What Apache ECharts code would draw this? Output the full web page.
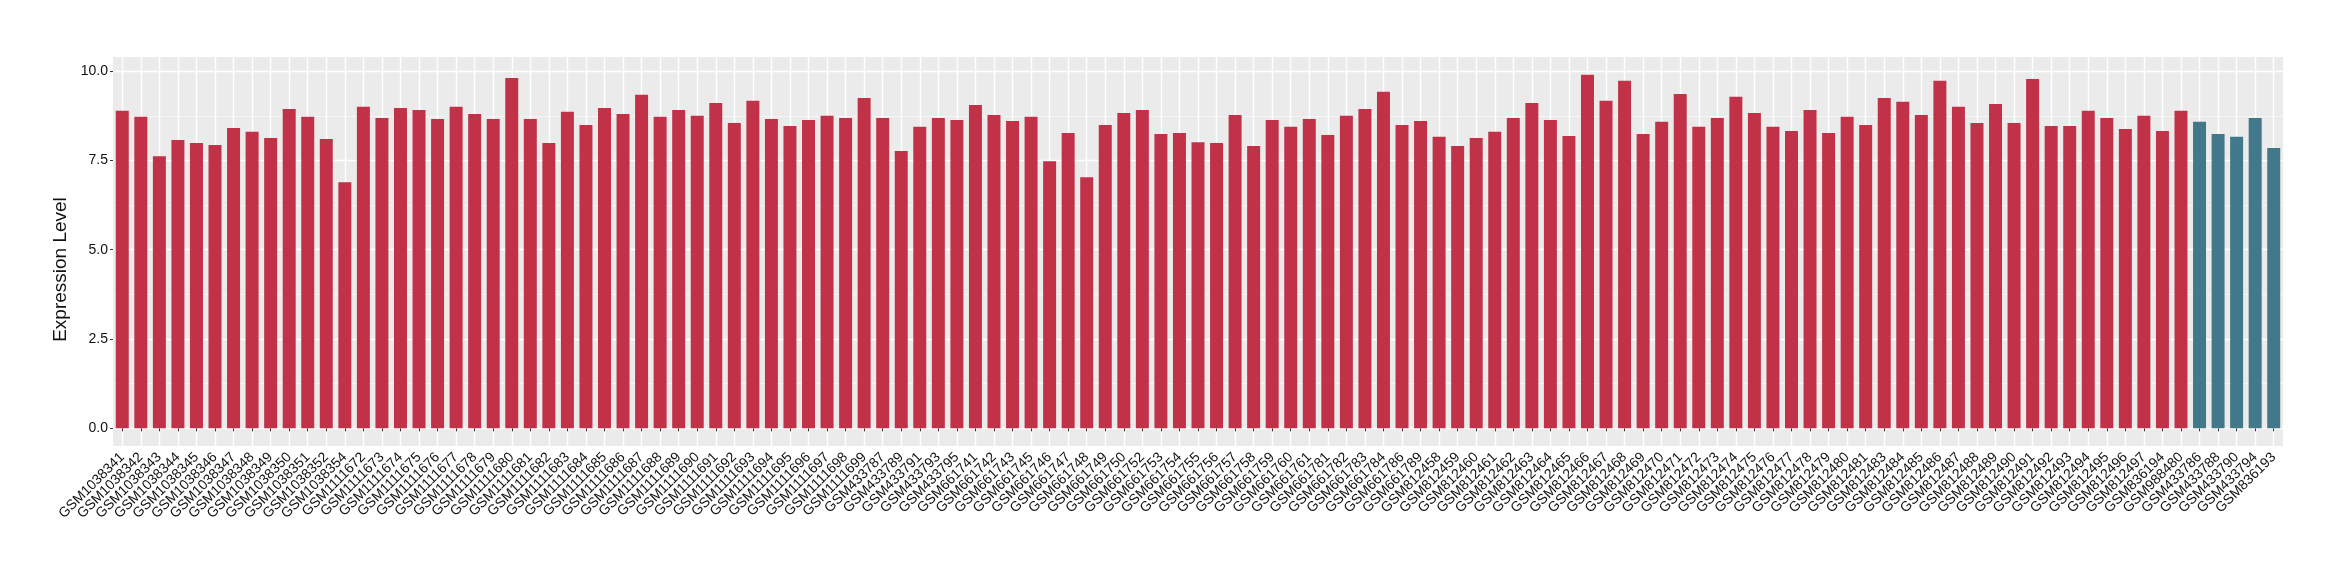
<!DOCTYPE html>
<html><head><meta charset="utf-8">
<script src="https://cdn.jsdelivr.net/npm/echarts@6/dist/echarts.min.js"></script>
<style>html,body{margin:0;padding:0;background:#fff}#c{width:2340px;height:580px}</style>
</head><body><div id="c"></div>
<script>
const categories = [
"GSM1038341","GSM1038342","GSM1038343","GSM1038344","GSM1038345","GSM1038346","GSM1038347","GSM1038348","GSM1038349","GSM1038350",
"GSM1038351","GSM1038352","GSM1038354","GSM1111672","GSM1111673","GSM1111674","GSM1111675","GSM1111676","GSM1111677","GSM1111678",
"GSM1111679","GSM1111680","GSM1111681","GSM1111682","GSM1111683","GSM1111684","GSM1111685","GSM1111686","GSM1111687","GSM1111688",
"GSM1111689","GSM1111690","GSM1111691","GSM1111692","GSM1111693","GSM1111694","GSM1111695","GSM1111696","GSM1111697","GSM1111698",
"GSM1111699","GSM433787","GSM433789","GSM433791","GSM433793","GSM433795","GSM661741","GSM661742","GSM661743","GSM661745",
"GSM661746","GSM661747","GSM661748","GSM661749","GSM661750","GSM661752","GSM661753","GSM661754","GSM661755","GSM661756",
"GSM661757","GSM661758","GSM661759","GSM661760","GSM661761","GSM661781","GSM661782","GSM661783","GSM661784","GSM661786",
"GSM661789","GSM812458","GSM812459","GSM812460","GSM812461","GSM812462","GSM812463","GSM812464","GSM812465","GSM812466",
"GSM812467","GSM812468","GSM812469","GSM812470","GSM812471","GSM812472","GSM812473","GSM812474","GSM812475","GSM812476",
"GSM812477","GSM812478","GSM812479","GSM812480","GSM812481","GSM812483","GSM812484","GSM812485","GSM812486","GSM812487",
"GSM812488","GSM812489","GSM812490","GSM812491","GSM812492","GSM812493","GSM812494","GSM812495","GSM812496","GSM812497",
"GSM836194","GSM988480","GSM433786","GSM433788","GSM433790","GSM433794","GSM836193"
];
const expression = [
8.89, 8.72, 7.62, 8.07, 7.99, 7.93, 8.41, 8.30, 8.13, 8.94,
8.72, 8.10, 6.89, 9.00, 8.69, 8.97, 8.91, 8.66, 9.00, 8.80,
8.66, 9.81, 8.66, 7.99, 8.86, 8.49, 8.97, 8.80, 9.34, 8.72,
8.91, 8.75, 9.11, 8.55, 9.17, 8.66, 8.46, 8.63, 8.75, 8.69,
9.25, 8.69, 7.76, 8.44, 8.69, 8.63, 9.05, 8.77, 8.60, 8.72,
7.48, 8.27, 7.03, 8.49, 8.83, 8.91, 8.24, 8.27, 8.01, 7.99,
8.77, 7.90, 8.63, 8.44, 8.66, 8.21, 8.75, 8.94, 9.42, 8.49,
8.60, 8.16, 7.90, 8.13, 8.30, 8.69, 9.11, 8.63, 8.18, 9.90,
9.17, 9.73, 8.24, 8.58, 9.36, 8.44, 8.69, 9.28, 8.83, 8.44,
8.32, 8.91, 8.27, 8.72, 8.49, 9.25, 9.14, 8.77, 9.73, 9.00,
8.55, 9.08, 8.55, 9.78, 8.46, 8.46, 8.89, 8.69, 8.38, 8.75,
8.32, 8.89, 8.58, 8.24, 8.16, 8.69, 7.85
];
const tealSamples = ["GSM433786","GSM433788","GSM433790","GSM433794","GSM836193"];
const yTicks = [0, 2.5, 5, 7.5, 10];
const yMinorTicks = [1.25, 3.75, 6.25, 8.75];
const yTitle = 'Expression Level';

const RED = '#C13148', TEAL = '#41788A';
const FONT = '"Liberation Sans", Arial, Helvetica, sans-serif';
const vmax = Math.max(...expression);
const pad = vmax * 0.05;

const chart = echarts.init(document.getElementById('c'), null, {renderer: 'canvas'});
chart.setOption({
  animation: false,
  textStyle: {fontFamily: FONT},
  grid: {left: 113, right: 57, top: 57, bottom: 134, show: true, backgroundColor: '#EBEBEB', borderWidth: 0},
  xAxis: {
    type: 'category', data: categories, boundaryGap: true,
    axisLine: {show: false},
    axisTick: {show: true, alignWithLabel: true, interval: 0, length: 3, lineStyle: {color: '#333', width: 1}},
    axisLabel: {interval: 0, rotate: 45, margin: 9, fontSize: 14, color: '#111', fontFamily: FONT},
    splitLine: {show: true, interval: 0, alignWithLabel: true, lineStyle: {color: '#FFFFFF', width: 1.4}}
  },
  yAxis: [{
    type: 'value', min: -pad, max: vmax + pad,
    axisLine: {show: false},
    axisTick: {show: true, length: 3, customValues: yTicks, lineStyle: {color: '#333', width: 1}},
    axisLabel: {customValues: yTicks, margin: 5, fontSize: 14, color: '#111', fontFamily: FONT,
      formatter: v => Number(v).toFixed(1)},
    splitLine: {show: true, lineStyle: {color: '#FFFFFF', width: 1.4}},
    name: yTitle, nameLocation: 'middle', nameRotate: 90, nameGap: 39,
    nameTextStyle: {fontSize: 19, color: '#111', fontFamily: FONT, padding: [0, 36, 0, 0]}
  }, {
    type: 'value', min: -pad, max: vmax + pad, position: 'left',
    axisLine: {show: false},
    axisTick: {show: false, customValues: yMinorTicks},
    axisLabel: {show: false, customValues: yMinorTicks},
    splitLine: {show: true, lineStyle: {color: '#F6F6F6', width: 1}}
  }],
  series: [{
    type: 'bar', yAxisIndex: 0, barWidth: '70%',
    data: expression.map((v, i) => ({
      value: v,
      itemStyle: {color: tealSamples.includes(categories[i]) ? TEAL : RED}
    }))
  }]
});
</script>
</body></html>
